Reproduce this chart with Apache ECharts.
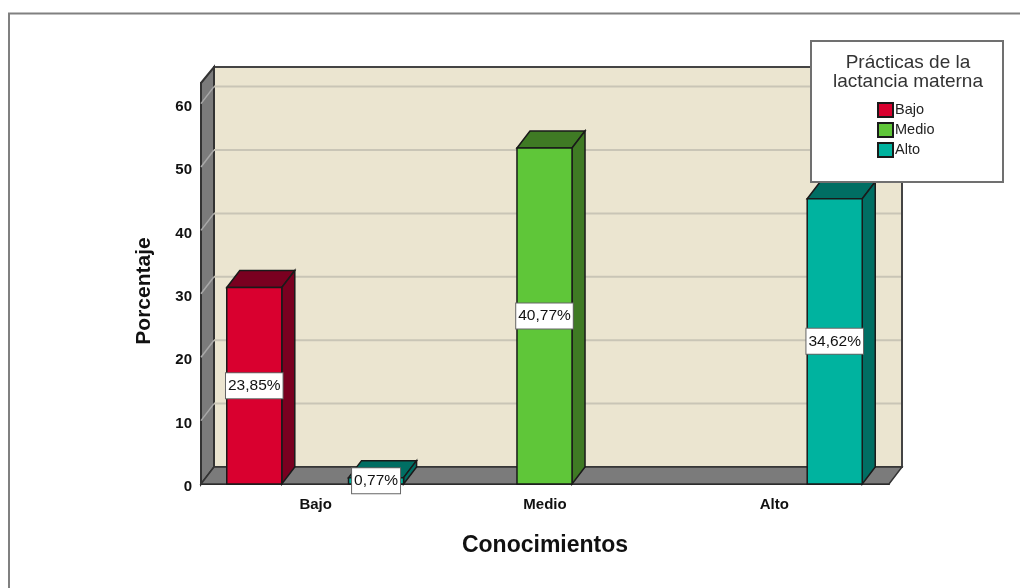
<!DOCTYPE html>
<html>
<head>
<meta charset="utf-8">
<style>html,body{margin:0;padding:0;background:#fff}#c{width:1020px;height:588px}</style>
<script src="https://cdn.jsdelivr.net/npm/echarts@6/dist/echarts.min.js"></script>
</head>
<body>
<div id="c"></div>
<script>
const categories = ['Bajo', 'Medio', 'Alto'];
const bajoValues = [31, null, null];
const medioValues = [null, 53, null];
const altoValues = [1, null, 45];
const bajoLabels = ['23,85%', '', ''];
const medioLabels = ['', '40,77%', ''];
const altoLabels = ['0,77%', '', '34,62%'];
const yTicks = [0, 10, 20, 30, 40, 50, 60];

const FONT = '"Liberation Sans", Arial, sans-serif';
const DX = 13, DY = 17;
const LINE = '#1a1a1a';

function poly(points, fill, stroke, width) {
  return { type: 'polygon', shape: { points }, style: { fill, stroke, lineWidth: width } };
}

function renderFrame(params, api) {
  const c = params.coordSys;
  const l = c.x, r = c.x + c.width, t = c.y, b = c.y + c.height;
  const children = [
    poly([[l + DX, t - DY + 1], [r + DX, t - DY + 1], [r + DX, b - DY], [l + DX, b - DY]], '#ebe5d0', '#444', 2),
    poly([[l, t], [l + DX, t - DY + 1], [l + DX, b - DY], [l, b]], '#7b7b7b', '#333', 2),
    poly([[l, b], [l + DX, b - DY], [r + DX, b - DY], [r, b]], '#7b7b7b', '#333', 1.5)
  ];
  yTicks.slice(1).forEach(v => {
    const y = api.coord([0, v])[1];
    children.push({ type: 'line', shape: { x1: l + DX, y1: y - DY, x2: r + DX - 1, y2: y - DY }, style: { stroke: '#c9c5b6', lineWidth: 2 } });
    children.push({ type: 'line', shape: { x1: l, y1: y, x2: l + DX, y2: y - DY }, style: { stroke: '#a8a8a8', lineWidth: 1.5 } });
  });
  return { type: 'group', children };
}

function barRenderer(offset, labels, front, dark) {
  return function (params, api) {
    const v = api.value(1);
    if (v == null || isNaN(v)) return null;
    const base = api.coord([api.value(0), 0]);
    const topPt = api.coord([api.value(0), v]);
    const band = api.size([1, 0])[0];
    const w = band * 0.24;
    const cx = base[0] + offset * band * 0.2655 - 0.5;
    const x0 = cx - w / 2, x1 = cx + w / 2, yb = base[1], yt = topPt[1];
    return {
      type: 'group',
      children: [
        poly([[x0, yt], [x0 + DX, yt - DY], [x1 + DX, yt - DY], [x1, yt]], dark, LINE, 1.5),
        poly([[x1, yt], [x1 + DX, yt - DY], [x1 + DX, yb - DY], [x1, yb]], dark, LINE, 1.5),
        poly([[x0, yt], [x1, yt], [x1, yb], [x0, yb]], front, LINE, 1.5),
        {
          type: 'text', z2: 10,
          style: {
            text: labels[params.dataIndex], x: cx, y: (yt + yb) / 2,
            align: 'center', verticalAlign: 'middle',
            font: '15.5px ' + FONT, fill: '#111',
            backgroundColor: '#fff', borderColor: '#666', borderWidth: 1, padding: [5, 2, 4, 2]
          }
        }
      ]
    };
  };
}

function barSeries(name, values, labels, offset, front, dark) {
  return {
    name, type: 'custom', z: 3,
    itemStyle: { color: front, borderColor: LINE, borderWidth: 1.5 },
    encode: { x: 0, y: 1 },
    data: values.map((v, i) => [i, v]),
    renderItem: barRenderer(offset, labels, front, dark)
  };
}

const option = {
  animation: false,
  backgroundColor: '#fff',
  title: {
    text: 'Prácticas de la\nlactancia materna',
    left: 903, top: 48, textAlign: 'center', z: 60,
    textStyle: { fontFamily: FONT, fontSize: 19, fontWeight: 'normal', color: '#333', lineHeight: 19 }
  },
  legend: {
    data: categories, orient: 'vertical', left: 877, top: 102, z: 60, padding: 0,
    itemWidth: 15, itemHeight: 14, itemGap: 4, icon: 'rect',
    textStyle: { fontFamily: FONT, fontSize: 14.5, color: '#222', padding: [0, 0, 0, -3] }
  },
  grid: { left: 201, right: 131, top: 83, bottom: 104, containLabel: false },
  xAxis: {
    type: 'category', data: categories,
    name: 'Conocimientos', nameLocation: 'middle', nameGap: 50,
    nameTextStyle: { fontFamily: FONT, fontSize: 23, fontWeight: 'bold', color: '#111' },
    axisLine: { show: true, lineStyle: { color: LINE, width: 2 } },
    axisTick: { show: false },
    axisLabel: { margin: 13, fontFamily: FONT, fontSize: 15, fontWeight: 'bold', color: '#111' }
  },
  yAxis: {
    type: 'value', min: 0, max: 63.25, interval: 10,
    name: 'Porcentaje', nameLocation: 'middle', nameGap: 46,
    nameTextStyle: { fontFamily: FONT, fontSize: 21, fontWeight: 'bold', color: '#111', padding: [0, 15, 0, 0] },
    axisLine: { show: true, lineStyle: { color: LINE, width: 2 } },
    axisTick: { show: false },
    splitLine: { show: false },
    axisLabel: { margin: 9, showMaxLabel: false, verticalAlign: 'top', lineHeight: 6, fontFamily: FONT, fontSize: 15, fontWeight: 'bold', color: '#111' }
  },
  graphic: [
    { type: 'polyline', z: 1, shape: { points: [[9, 588], [9, 13.5], [1020, 13.5]] }, style: { fill: 'none', stroke: '#808080', lineWidth: 2 } },
    { type: 'rect', z: 50, shape: { x: 811, y: 41, width: 192, height: 141 }, style: { fill: '#fff', stroke: '#707070', lineWidth: 2 } }
  ],
  series: [
    { name: 'frame', type: 'custom', z: 1, silent: true, encode: { x: 0, y: 1 }, data: [[0, 0]], renderItem: renderFrame },
    barSeries('Bajo', bajoValues, bajoLabels, -1, '#d9002f', '#7a0020'),
    barSeries('Medio', medioValues, medioLabels, 0, '#5fc639', '#3f7a24'),
    barSeries('Alto', altoValues, altoLabels, 1, '#00b39f', '#006e63')
  ]
};
echarts.init(document.getElementById('c')).setOption(option);
</script>
</body>
</html>
